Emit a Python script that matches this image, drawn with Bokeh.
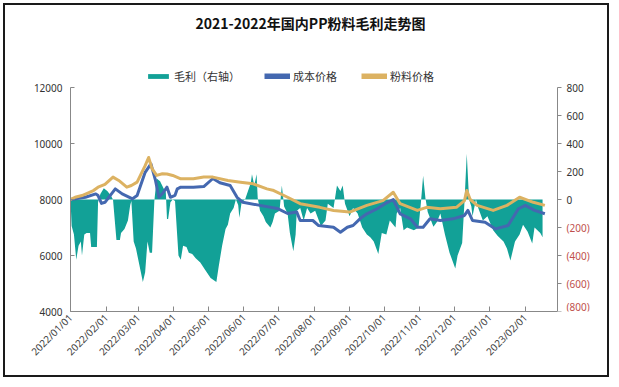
import math
import pandas as pd
from bokeh.plotting import figure
from bokeh.models import (Range1d, FixedTicker, DatetimeTickFormatter,
                          Legend, LegendItem, Label)
from bokeh.core.properties import value
from bokeh.embed import file_html
from bokeh.resources import INLINE

# ---------------- data ----------------
title_text = "2021-2022年国内PP粉料毛利走势图"
series_names = ["毛利（右轴）", "成本价格", "粉料价格"]

margin_dates = [
    "2022-01-01", "2022-01-02", "2022-01-04", "2022-01-06", "2022-01-08", "2022-01-10", "2022-01-11",
    "2022-01-13", "2022-01-15", "2022-01-18", "2022-01-19", "2022-01-24", "2022-01-25", "2022-01-27",
    "2022-01-30", "2022-02-02", "2022-02-05", "2022-02-07", "2022-02-10", "2022-02-13", "2022-02-14",
    "2022-02-17", "2022-02-20", "2022-02-22", "2022-02-23", "2022-02-25", "2022-02-27", "2022-03-02",
    "2022-03-05", "2022-03-07", "2022-03-09", "2022-03-11", "2022-03-13", "2022-03-15", "2022-03-17",
    "2022-03-20", "2022-03-23", "2022-03-25", "2022-03-26", "2022-03-27", "2022-03-29", "2022-03-31",
    "2022-04-02", "2022-04-05", "2022-04-07", "2022-04-09", "2022-04-12", "2022-04-14", "2022-04-17",
    "2022-04-20", "2022-04-24", "2022-04-28", "2022-05-03", "2022-05-08", "2022-05-10", "2022-05-11",
    "2022-05-13", "2022-05-16", "2022-05-18", "2022-05-20", "2022-05-23", "2022-05-25", "2022-05-27",
    "2022-05-28", "2022-05-30", "2022-06-02", "2022-06-07", "2022-06-08", "2022-06-10", "2022-06-12",
    "2022-06-13", "2022-06-15", "2022-06-18", "2022-06-20", "2022-06-24", "2022-06-26", "2022-06-28",
    "2022-07-02", "2022-07-04", "2022-07-06", "2022-07-09", "2022-07-11", "2022-07-14", "2022-07-16",
    "2022-07-17", "2022-07-20", "2022-07-23", "2022-07-26", "2022-07-29", "2022-08-02", "2022-08-07",
    "2022-08-11", "2022-08-13", "2022-08-18", "2022-08-21", "2022-08-24", "2022-08-26", "2022-08-28",
    "2022-09-01", "2022-09-04", "2022-09-08", "2022-09-12", "2022-09-16", "2022-09-19", "2022-09-22",
    "2022-09-26", "2022-09-29", "2022-10-03", "2022-10-06", "2022-10-11", "2022-10-12", "2022-10-15",
    "2022-10-18", "2022-10-21", "2022-10-27", "2022-10-31", "2022-11-02", "2022-11-04", "2022-11-06",
    "2022-11-08", "2022-11-13", "2022-11-16", "2022-11-19", "2022-11-23", "2022-11-27", "2022-12-02",
    "2022-12-04", "2022-12-08", "2022-12-10", "2022-12-12", "2022-12-14", "2022-12-16", "2022-12-17",
    "2022-12-20", "2022-12-22", "2022-12-26", "2022-12-30", "2023-01-04", "2023-01-08", "2023-01-13",
    "2023-01-16", "2023-01-19", "2023-01-23", "2023-01-27", "2023-01-30", "2023-02-03", "2023-02-07",
    "2023-02-09", "2023-02-14", "2023-02-16",
]
margin_values = [
    0, -190, -250, -430, -330, -300, -400,
    -250, -240, -240, -340, -340, -20, 40,
    80, 60, 30, 0, -290, -290, -240,
    -210, -150, -40, -10, -300, -350, -470,
    -590, -520, -300, -380, -380, -10, 150,
    130, 80, 50, -140, -140, -20, 0,
    -10, -400, -430, -330, -340, -380, -390,
    -420, -450, -500, -560, -590, -480, -430,
    -330, -210, -180, -100, -60, 0, -40,
    -130, -20, 0, 120, 180, 100, 180,
    10, -80, -120, -160, -200, -160, -100,
    -80, 100, -50, -100, -240, -370, -250,
    -80, -60, -150, -60, -100, -80, -190,
    -150, -30, -60, 100, 60, 100, -30,
    -120, -60, -100, -200, -250, -270, -300,
    -390, -240, -250, -150, -200, -100, -60,
    -220, -200, -220, -200, -30, 170, 10,
    -90, -195, -160, -100, -250, -380, -493,
    -400, -310, -20, 326, 0, -50, -120,
    0, -60, -150, -120, -220, -260, -300,
    -350, -436, -300, -250, -180, -230, -315,
    -200, -240, -270,
]

cost_dates = [
    "2022-01-01", "2022-01-14", "2022-01-23", "2022-01-25", "2022-01-28", "2022-01-31", "2022-02-09",
    "2022-02-15", "2022-02-24", "2022-02-28", "2022-03-07", "2022-03-12", "2022-03-16", "2022-03-19",
    "2022-03-23", "2022-03-26", "2022-03-29", "2022-04-02", "2022-04-04", "2022-04-07", "2022-04-18",
    "2022-04-27", "2022-05-05", "2022-05-11", "2022-05-20", "2022-05-26", "2022-05-31", "2022-06-15",
    "2022-06-30", "2022-07-09", "2022-07-17", "2022-07-20", "2022-07-31", "2022-08-05", "2022-08-18",
    "2022-08-24", "2022-08-30", "2022-09-04", "2022-09-10", "2022-09-16", "2022-09-25", "2022-10-04",
    "2022-10-09", "2022-10-15", "2022-10-24", "2022-10-30", "2022-11-04", "2022-11-10", "2022-11-19",
    "2022-11-30", "2022-12-10", "2022-12-13", "2022-12-17", "2022-12-28", "2023-01-06", "2023-01-17",
    "2023-01-26", "2023-02-01", "2023-02-09", "2023-02-18",
]
cost_values = [
    8000, 8080, 8200, 8140, 7860, 7900, 8380,
    8200, 8025, 8140, 8970, 9270, 8680, 8080,
    8260, 8440, 8080, 8150, 8380, 8440, 8440,
    8460, 8750, 8600, 8500, 8080, 7900, 7790,
    7680, 7500, 7550, 7250, 7250, 7070, 7010,
    6830, 7010, 7070, 7310, 7490, 7670, 7900,
    8000, 7490, 7310, 7010, 7010, 7310, 7250,
    7310, 7430, 7610, 7250, 7190, 6950, 7070,
    7670, 7790, 7610, 7490,
]

price_dates = [
    "2022-01-01", "2022-01-05", "2022-01-11", "2022-01-21", "2022-01-25", "2022-01-31", "2022-02-07",
    "2022-02-12", "2022-02-19", "2022-02-23", "2022-02-28", "2022-03-07", "2022-03-10", "2022-03-13",
    "2022-03-17", "2022-03-22", "2022-03-26", "2022-03-31", "2022-04-07", "2022-04-18", "2022-04-27",
    "2022-05-05", "2022-05-18", "2022-05-29", "2022-06-09", "2022-06-21", "2022-06-27", "2022-07-09",
    "2022-07-20", "2022-08-06", "2022-08-18", "2022-09-01", "2022-09-16", "2022-09-30", "2022-10-09",
    "2022-10-15", "2022-10-30", "2022-11-07", "2022-11-19", "2022-12-03", "2022-12-10", "2022-12-12",
    "2022-12-15", "2022-12-21", "2023-01-04", "2023-01-16", "2023-01-27", "2023-02-08", "2023-02-18",
]
price_values = [
    8000, 8080, 8140, 8320, 8440, 8540, 8800,
    8680, 8440, 8500, 8620, 9210, 9500, 9100,
    8860, 8920, 8910, 8860, 8740, 8740, 8800,
    8800, 8680, 8620, 8560, 8380, 8320, 8080,
    7850, 7720, 7610, 7550, 7790, 7960, 8260,
    7850, 7610, 7720, 7670, 7720, 7960, 8320,
    8000, 7790, 7610, 7790, 8080, 7900, 7790,
]

x_ticks = ["2022-01-01", "2022-02-01", "2022-03-01", "2022-04-01", "2022-05-01", "2022-06-01",
           "2022-07-01", "2022-08-01", "2022-09-01", "2022-10-01", "2022-11-01", "2022-12-01",
           "2023-01-01", "2023-02-01"]
x_start, x_end = "2022-01-01", "2023-03-01"
left_ticks = [4000, 6000, 8000, 10000, 12000]
right_ticks = [-800, -600, -400, -200, 0, 200, 400, 600, 800]
right_labels = ["(800)", "(600)", "(400)", "(200)", "0", "200", "400", "600", "800"]

# ---------------- styling / layout ----------------
TEAL = "#12a197"
BLUE = "#4468b0"
GOLD = "#dcb262"
NEG_RED = "#c0504d"
AXIS_GREY = "#888888"
FONT_NUM = "Noto Sans"
FONT_CJK = "Noto Sans CJK SC"

AXIS_H = 224          # pixel height between the lowest and highest axis tick
AXIS_W = 487          # pixel width of the date axis
FRAME_H = 301         # frame extends above the top tick to hold title and legend
FRAME_W = 536         # frame extends right of the right axis to hold its labels

def ms(d):
    return pd.Timestamp(d).timestamp() * 1000.0

x0, x1 = ms(x_start), ms(x_end)
x_far = x1 + (x1 - x0) * (FRAME_W - AXIS_W) / AXIS_W
y_lo, y_hi = left_ticks[0], left_ticks[-1]
y_top = y_lo + (y_hi - y_lo) * FRAME_H / AXIS_H
r_lo, r_hi = right_ticks[0], right_ticks[-1]
r_top = r_lo + (r_hi - r_lo) * FRAME_H / AXIS_H

p = figure(width=606, height=374, x_axis_type="datetime",
           output_backend="svg", toolbar_location=None, title=None,
           x_range=Range1d(x0, x_far), y_range=Range1d(y_lo, y_top),
           min_border_left=65, min_border_right=5, min_border_top=5, min_border_bottom=68)
p.styles = {"margin": "3px", "border": "2px solid #1a1a1a"}
p.extra_y_ranges = {"right": Range1d(r_lo, r_top)}
p.xgrid.visible = False
p.ygrid.visible = False
p.outline_line_color = None

area = p.varea(x=pd.to_datetime(margin_dates), y1=0, y2=margin_values,
               y_range_name="right", fill_color=TEAL)
p.line(x=pd.to_datetime(cost_dates), y=cost_values, line_width=3, line_color=BLUE,
       line_join="round")
p.line(x=pd.to_datetime(price_dates), y=price_values, line_width=3, line_color=GOLD,
       line_join="round")

# legend swatches (a single missing point, so only the swatch is drawn)
lg_cost = p.line(x=[x0], y=[float("nan")], line_width=6, line_color=BLUE)
lg_price = p.line(x=[x0], y=[float("nan")], line_width=6, line_color=GOLD)

# x axis
xa = p.xaxis[0]
xa.bounds = (x0, x1)
xa.ticker = FixedTicker(ticks=[ms(d) for d in x_ticks])
fmt = "%Y/%m/%d"
xa.formatter = DatetimeTickFormatter(days=fmt, months=fmt, years=fmt)
xa.major_label_orientation = math.pi / 4
xa.major_tick_in = 5
xa.major_tick_out = 0
xa.minor_tick_line_color = None
xa.axis_line_color = AXIS_GREY
xa.major_tick_line_color = AXIS_GREY
xa.major_label_text_font = FONT_NUM
xa.major_label_text_font_size = "10px"
xa.major_label_text_color = "#444444"
xa.major_label_standoff = 4

# left axis
ya = p.yaxis[0]
ya.bounds = (y_lo, y_hi)
ya.ticker = FixedTicker(ticks=left_ticks)
ya.major_tick_in = 4
ya.major_tick_out = 0
ya.minor_tick_line_color = None
ya.axis_line_color = AXIS_GREY
ya.major_tick_line_color = AXIS_GREY
ya.major_label_text_font = FONT_NUM
ya.major_label_text_font_size = "10px"
ya.major_label_text_color = "#333333"
ya.major_label_standoff = 8

# right (margin) axis: line, ticks and labels (negative ones in red)
p.segment(x0=x1, y0=r_lo, x1=x1, y1=r_hi, y_range_name="right",
          line_color=AXIS_GREY, line_width=1)
p.ray(x=[x1] * len(right_ticks), y=right_ticks, length=4, length_units="screen", angle=0,
      y_range_name="right", line_color=AXIS_GREY, line_width=1)
p.text(x=[x1] * len(right_ticks), y=right_ticks, text=right_labels, y_range_name="right",
       x_offset=9, y_offset=[-5 if t == r_lo else 0 for t in right_ticks],
       text_baseline="middle", text_align="left",
       text_font=value(FONT_NUM), text_font_size=value("10px"),
       text_color=[NEG_RED if t < 0 else "#333333" for t in right_ticks])

# title
p.add_layout(Label(x=240, y=289, x_units="screen", y_units="screen", text=title_text,
                   text_font=FONT_CJK, text_font_size="14px", text_font_style="bold",
                   text_color="#111111", text_baseline="middle", text_align="center"))

legend = Legend(items=[LegendItem(label=series_names[0], renderers=[area]),
                       LegendItem(label=series_names[1], renderers=[lg_cost]),
                       LegendItem(label=series_names[2], renderers=[lg_price])],
                orientation="horizontal", location=(75, 227), margin=0, padding=2,
                glyph_width=26, glyph_height=6, label_height=14, label_standoff=3,
                spacing=24, label_text_font=FONT_CJK, label_text_font_size="11px",
                label_text_color="#333333", border_line_color=None,
                background_fill_alpha=0)
p.add_layout(legend)

open("out.html", "w").write(file_html(p, INLINE))
